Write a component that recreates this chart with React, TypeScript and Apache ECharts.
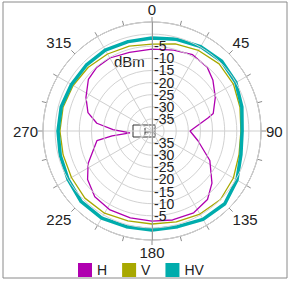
import React, { useEffect, useRef } from "react";
import * as echarts from "echarts";

// Angle axis labels (degrees) and radial scale (dBm)
const angleLabels = [0, 45, 90, 135, 180, 225, 270, 315];
const radiusMin = -40;
const radiusMax = 5;
const radiusStep = 5;

const seriesNames = ["H", "V", "HV"];

// H polarization: angle (deg) / level (dBm)
const hAngles = [0, 15, 28, 41, 50, 62, 74, 77, 90, 102, 117, 131, 141, 153, 167, 180, 194, 208, 221, 233, 243, 260, 263, 265, 272, 278, 286, 297, 309, 319, 330, 344];
const hValues = [-6.2, -5.4, -4.3, -5.2, -7.2, -10.4, -13.7, -16.3, -24.3, -20.6, -13.2, -7.2, -3.6, -2.1, -2.3, -2.8, -3.0, -3.1, -4.0, -6.7, -10.4, -16.9, -23.4, -30.9, -23.9, -17.0, -12.5, -9.4, -6.2, -5.2, -5.2, -6.2];

// V polarization
const vAngles = [0, 15, 30, 45, 60, 75, 90, 105, 120, 135, 150, 165, 180, 195, 210, 225, 240, 255, 270, 285, 300, 315, 330, 345];
const vValues = [-4.1, -2.8, -1.6, -0.8, -1.2, -2.4, -3.3, -2.8, -1.2, 0.0, -0.4, -1.2, -1.6, -1.6, -0.8, -0.8, -1.6, -2.0, -2.0, -2.0, -2.4, -2.8, -3.3, -3.7];

// HV polarization
const hvAngles = [0, 15, 30, 45, 60, 75, 90, 105, 120, 135, 150, 165, 180, 195, 210, 225, 240, 255, 270, 285, 300, 315, 330, 345];
const hvValues = [-1.6, -0.8, 0.2, 0.7, 0.0, -1.6, -2.8, -2.0, 0.5, 2.5, 2.1, 0.9, 0.9, 0.9, 1.5, 1.3, 0.0, -0.8, -1.2, -1.2, -1.6, -1.6, -1.4, -1.8];

const colors = ["#b000b0", "#a8a800", "#00acac"];
const widths = [1.3, 1.3, 3.5];

function closedLoop(angles: number[], values: number[]) {
  const d = angles.map((a, i) => [values[i], a]);
  d.push([values[0], 360]);
  return d;
}

export default function App() {
  const ref = useRef<HTMLDivElement>(null);
  useEffect(() => {
    document.body.style.margin = "0";
    const chart = echarts.init(ref.current!, null, { renderer: "svg" });
    const font = "'Liberation Sans', Arial, sans-serif";
    const radiusLabel = (flip: boolean) => ({
      show: true,
      fontSize: 14,
      fontFamily: font,
      color: "#222",
      margin: flip ? -2 : 2,
      align: "left",
      formatter: (v: number) => (v <= -5 ? String(v) : ""),
    });
    const data = [
      closedLoop(hAngles, hValues),
      closedLoop(vAngles, vValues),
      closedLoop(hvAngles, hvValues),
    ];
    chart.setOption({
      animation: false,
      color: colors,
      polar: [
        { center: [152, 131], radius: 109 },
        { center: [152, 131], radius: 109 },
      ],
      angleAxis: [
        {
          polarIndex: 0,
          type: "value",
          min: 0,
          max: 360,
          interval: 15,
          startAngle: 90,
          clockwise: true,
          axisLine: { show: true, lineStyle: { color: "#8c8c8c", width: 1 } },
          axisTick: { show: true, length: 5, lineStyle: { color: "#8c8c8c" } },
          axisLabel: {
            show: true,
            margin: 5,
            fontSize: 15,
            fontFamily: font,
            color: "#222",
            formatter: (v: number) => (angleLabels.includes(v) ? String(v) : ""),
          },
          splitLine: { show: false },
        },
        {
          polarIndex: 1,
          type: "value",
          min: 0,
          max: 360,
          interval: 30,
          startAngle: 270,
          clockwise: true,
          axisLine: { show: false },
          axisTick: { show: false },
          axisLabel: { show: false },
          splitLine: { show: true, lineStyle: { color: "#cfcfcf", width: 1 } },
        },
      ],
      radiusAxis: [
        {
          polarIndex: 0,
          type: "value",
          min: radiusMin,
          max: radiusMax,
          interval: radiusStep,
          axisLine: { show: true, lineStyle: { color: "#999", width: 1 } },
          axisTick: { show: false },
          axisLabel: radiusLabel(true),
          splitLine: { show: true, lineStyle: { color: "#d2d2d2", width: 1 } },
          z: 5,
        },
        {
          polarIndex: 1,
          type: "value",
          min: radiusMin,
          max: radiusMax,
          interval: radiusStep,
          axisLine: { show: true, lineStyle: { color: "#999", width: 1 } },
          axisTick: { show: false },
          axisLabel: radiusLabel(false),
          splitLine: { show: false },
          z: 5,
        },
      ],
      legend: {
        data: seriesNames,
        left: 78,
        top: 263,
        icon: "rect",
        itemWidth: 14,
        itemHeight: 14,
        itemGap: 15,
        padding: 0,
        textStyle: { fontSize: 14, fontFamily: font, color: "#222" },
      },
      graphic: [
        {
          type: "rect",
          shape: { x: 3, y: 2, width: 284, height: 276 },
          style: { fill: "none", stroke: "#8a8a8a", lineWidth: 1 },
          silent: true,
        },
        {
          type: "text",
          x: 114,
          y: 54,
          style: { text: "dBm", fontSize: 15, fontFamily: font, fill: "#222" },
          silent: true,
        },
        {
          type: "rect",
          shape: { x: 133, y: 125, width: 22, height: 12 },
          style: { fill: "none", stroke: "#333", lineWidth: 1 },
          silent: true,
        },
        {
          type: "polyline",
          shape: { points: [[145, 128], [145, 135]] },
          style: { stroke: "#333", lineWidth: 1 },
          silent: true,
        },
        {
          type: "polyline",
          shape: { points: [[145, 132], [155, 132]] },
          style: { stroke: "#333", lineWidth: 1 },
          silent: true,
        },
      ],
      series: seriesNames.map((name, i) => ({
        name,
        type: "line",
        coordinateSystem: "polar",
        polarIndex: 0,
        data: data[i],
        showSymbol: false,
        smooth: false,
        lineStyle: { width: widths[i], color: colors[i] },
        itemStyle: { color: colors[i] },
        z: 3,
      })),
    });
    return () => chart.dispose();
  }, []);
  return <div ref={ref} style={{ width: 290, height: 281 }} />;
}
